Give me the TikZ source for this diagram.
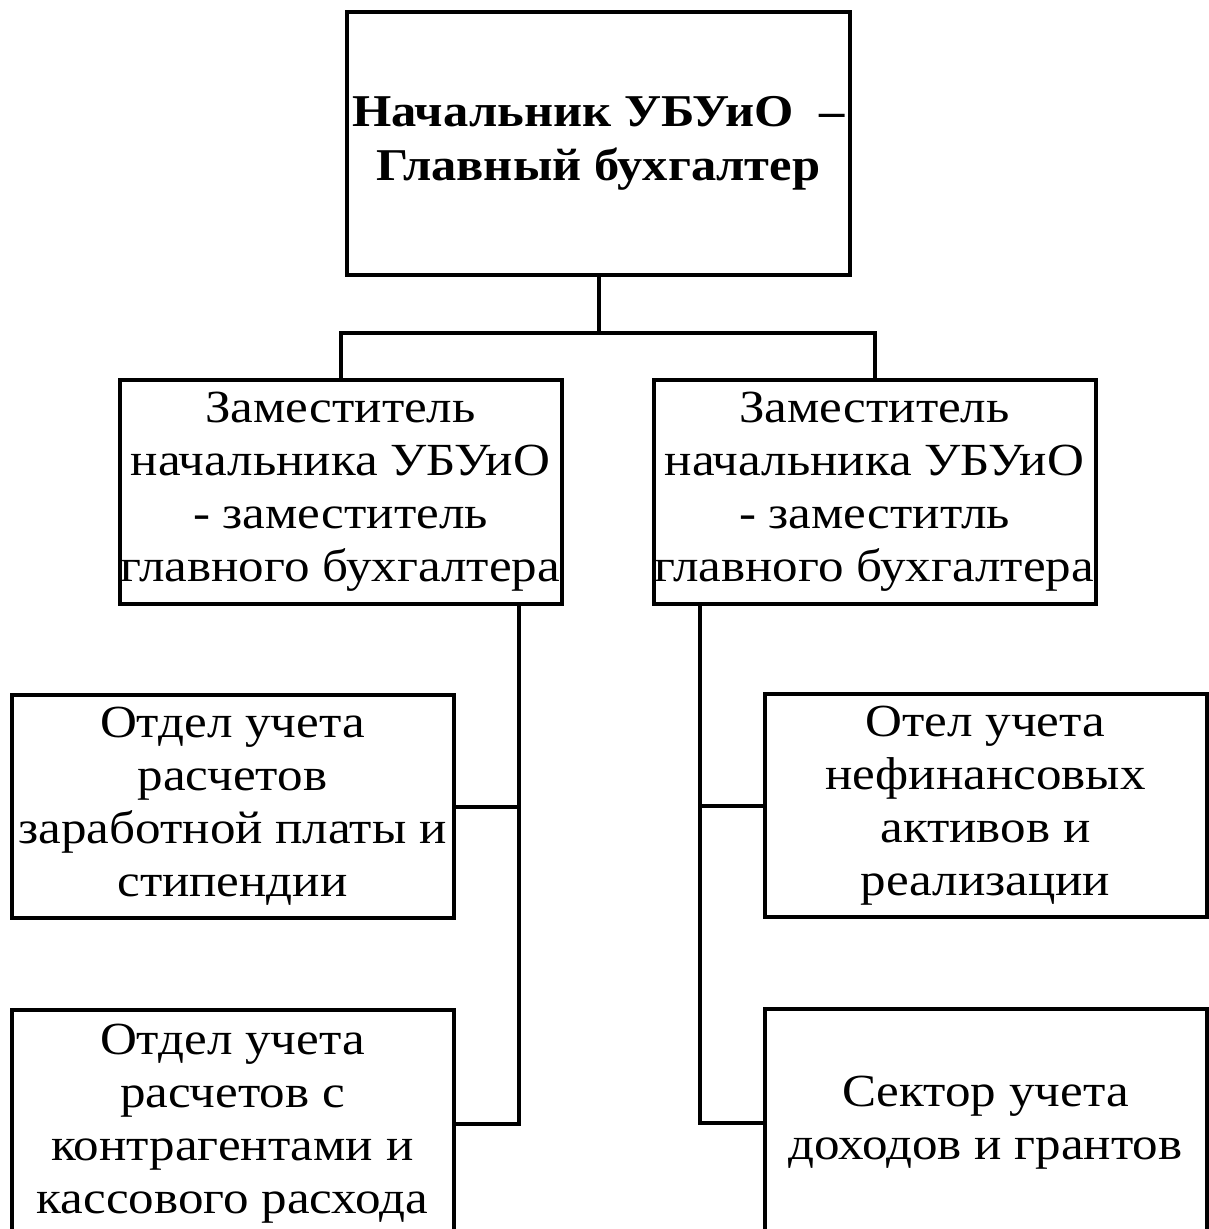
\documentclass[tikz,border=0pt]{standalone}
\usepackage{fontspec}
\setmainfont{Liberation Serif}[FakeStretch=1.11]
\usetikzlibrary{positioning}
\tikzstyle{unit}=[rectangle, draw=black, line width=4pt, inner sep=0pt, outer sep=0pt, align=center, minimum width=442pt, minimum height=223pt, font=\fontsize{46}{53}\selectfont]
\tikzstyle{line}=[draw=black, line width=4pt]

\begin{document}
\begin{tikzpicture}[x=1pt, y=-1pt]
      \useasboundingbox (0,0) rectangle (1209,1229);
      \node (Chief) [unit, minimum width=503pt, minimum height=263pt, font=\fontsize{45.5}{54}\selectfont\bfseries] at (598.5,143.5)
            {
              Начальник УБУиО~~–\\
              Главный бухгалтер
            };
      \node (DeputyL) [unit, minimum height=224pt, below=105pt of Chief.south, anchor=north, xshift=-258pt]
            {
              Заместитель\\ начальника УБУиО\\ - заместитель\\ главного бухгалтера
            };
      \node (DeputyR) [unit, minimum height=224pt, right=92pt of DeputyL]
            {
              Заместитель\\ начальника УБУиО\\ - заместитль\\ главного бухгалтера
            };
      \node (SalaryDept) [unit, below=91pt of DeputyL, xshift=-108pt]
            {
              Отдел учета\\ расчетов\\ заработной платы и\\ стипендии
            };
      \node (AssetsDept) [unit, below=90pt of DeputyR, xshift=111pt]
            {
              Отел учета\\ нефинансовых\\ активов и\\ реализации
            };
      \node (CashDept) [unit, minimum height=228pt, below=92pt of SalaryDept]
            {
              Отдел учета\\ расчетов с\\ контрагентами и\\ кассового расхода
            };
      \node (GrantSector) [unit, minimum height=228pt, below=92pt of AssetsDept]
            {
              Сектор учета\\ доходов и грантов
            };
      \draw [line] (Chief.south) -- ++(0,58) coordinate (Fork) -| (DeputyL.north);
      \draw [line] (Fork) -| (DeputyR.north);
      \draw [line] ([xshift=178pt]DeputyL.south) |- (SalaryDept.east);
      \draw [line] ([xshift=178pt]DeputyL.south) |- (CashDept.east);
      \draw [line] ([xshift=-175pt]DeputyR.south) |- (AssetsDept.west);
      \draw [line] ([xshift=-175pt]DeputyR.south) |- (GrantSector.west);
    \end{tikzpicture}
\end{document}
